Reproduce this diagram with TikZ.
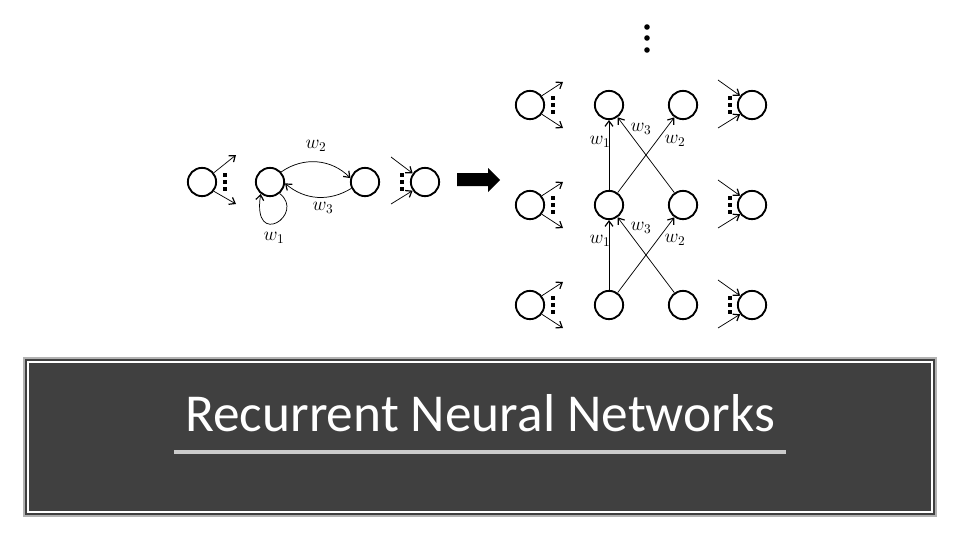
\documentclass[tikz,border=0pt]{standalone}
\usepackage{fontspec}
\setmainfont{Carlito}
\usetikzlibrary{arrows.meta}
\begin{document}
\begin{tikzpicture}[x=0.75pt,y=-0.75pt,
  neuron/.style={circle,draw=black,line width=1.4pt,minimum size=21.2pt,inner sep=0pt},
  conn/.style={line width=0.55pt,-{Straight Barb[length=4pt,width=6pt,line width=0.9pt]}},
  wlab/.style={inner sep=0pt,font=\fontsize{14}{15}\selectfont},
  dotc/.style={rectangle,fill=black,inner sep=0pt,minimum size=2.3pt},
  bigdot/.style={circle,fill=black,inner sep=0pt,minimum size=4.2pt}]
\useasboundingbox (0,0) rectangle (960,540);
\fill[white] (0,0) rectangle (960,540);

% ---------- left diagram ----------
\node[neuron] (l1) at (202,182) {};
\node[neuron] (l2) at (270,182) {};
\node[neuron] (l3) at (365,182) {};
\node[neuron] (l4) at (425,182) {};
\foreach \x/\n in {225/a,402/b}{
  \node[dotc] (ld\n1) at (\x,175) {};
  \node[dotc] (ld\n2) at (\x,182) {};
  \node[dotc] (ld\n3) at (\x,189) {};
}
\coordinate (l1o1) at (236,155);
\coordinate (l1o2) at (236,204);
\coordinate (l4i1) at (391,157);
\coordinate (l4i2) at (391,204);
\draw[conn] (l1.38) -- (l1o1);
\draw[conn] (l1.-38) -- (l1o2);
\draw[conn] (l4i1) -- (l4.145);
\draw[conn] (l4i2) -- (l4.-145);
\draw[conn] (l2.42) to[bend left=40] (l3.165);
\draw[conn] (l3.-155) to[bend left=36] (l2.-5);
\draw[conn] (l2.-50) .. controls (306,214) and (252,250) .. (l2.-128);
\node[wlab] (lw2) at (316,146) {$w_2$};
\node[wlab] (lw3) at (323,208) {$w_3$};
\node[wlab] (lw1) at (274,238) {$w_1$};

% ---------- big arrow ----------
\fill[black] (457,173) -- (488,173) -- (488,168) -- (500,180) -- (488,192) -- (488,186) -- (457,186) -- cycle;

% ---------- right diagram ----------
\node[bigdot] (td1) at (647,27) {};
\node[bigdot] (td2) at (647,38) {};
\node[bigdot] (td3) at (647,50) {};
\foreach \r/\y in {1/105,2/205,3/305}{
  \node[neuron] (A\r) at (530,\y) {};
  \node[neuron] (B\r) at (609,\y) {};
  \node[neuron] (C\r) at (683,\y) {};
  \node[neuron] (D\r) at (752,\y) {};
  \node[dotc] (ad\r1) at (553,\y-7) {};
  \node[dotc] (ad\r2) at (553,\y) {};
  \node[dotc] (ad\r3) at (553,\y+7) {};
  \node[dotc] (dd\r1) at (730,\y-7) {};
  \node[dotc] (dd\r2) at (730,\y) {};
  \node[dotc] (dd\r3) at (730,\y+7) {};
  \coordinate (ao\r1) at (563,\y-23);
  \coordinate (ao\r2) at (563,\y+23);
  \coordinate (di\r1) at (718,\y-25);
  \coordinate (di\r2) at (718,\y+23);
  \draw[conn] (A\r.38) -- (ao\r1);
  \draw[conn] (A\r.-38) -- (ao\r2);
  \draw[conn] (di\r1) -- (D\r.142);
  \draw[conn] (di\r2) -- (D\r.-142);
}
\foreach \lo/\hi in {2/1,3/2}{
  \draw[conn] (B\lo.north) -- (B\hi.south);
  \draw[conn] (B\lo.55) -- (C\hi.-125);
  \draw[conn] (C\lo.125) -- (B\hi.-55);
}
\node[wlab] (rw11) at (600,142) {$w_1$};
\node[wlab] (rw31) at (641,129) {$w_3$};
\node[wlab] (rw21) at (675,141) {$w_2$};
\node[wlab] (rw12) at (600,241) {$w_1$};
\node[wlab] (rw32) at (641,228) {$w_3$};
\node[wlab] (rw22) at (675,240) {$w_2$};

% ---------- title box ----------
\fill[gray!60] (23,357) rectangle (937,517);
\fill[black!75] (25,359) rectangle (935,515);
\draw[white,line width=0.8pt] (28,362) rectangle (932,512);
\node[text=white,inner sep=0pt,anchor=base,font=\fontsize{40}{48}\selectfont] (title) at (480,431) {Recurrent Neural Networks};
\draw[black!20,line width=2.5pt] (174,452) -- (786,452);
\end{tikzpicture}
\end{document}
